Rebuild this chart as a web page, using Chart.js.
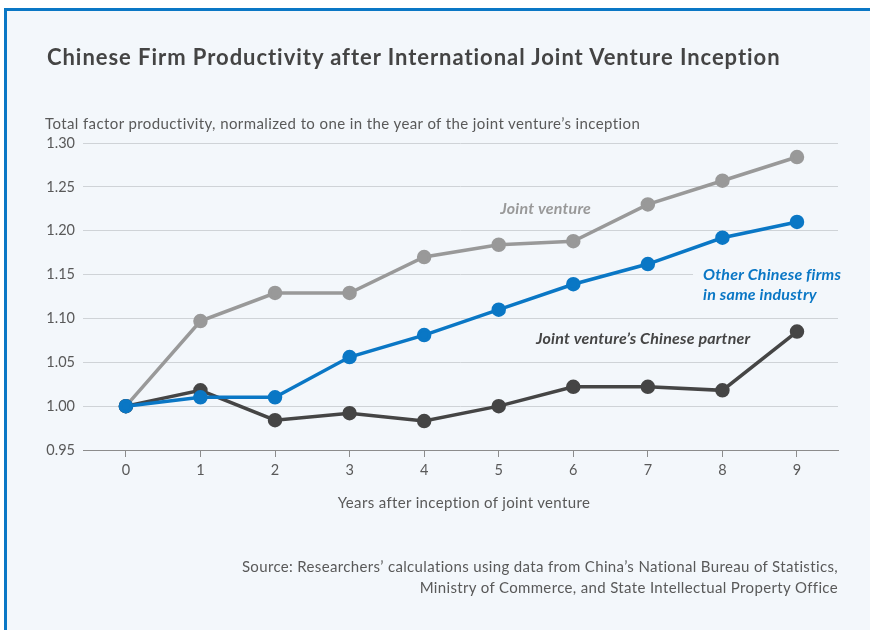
<!DOCTYPE html>
<html>
<head>
<meta charset="utf-8">
<script src="https://cdn.jsdelivr.net/npm/chart.js@4.4.1/dist/chart.umd.min.js"></script>
<style>
    html, body { margin: 0; padding: 0; background: #fff; }
    body { width: 870px; height: 630px; position: relative; overflow: hidden; font-family: Lato, "Open Sans", sans-serif; }
    #frame {
        position: absolute; left: 4px; top: 8px; width: 880px; height: 640px;
        background: #f3f7fb; border-top: 3px solid #0a77c5; border-left: 3px solid #0a77c5;
    }
    #chartwrap { position: absolute; left: 0; top: 0; width: 870px; height: 630px; }
    .txt { position: absolute; color: #595959; white-space: nowrap; }
    #title { left: 47px; top: 43px; font-size: 22px; font-weight: 700; color: #444; letter-spacing: 0.95px; }
    #ytitle { left: 45px; top: 114px; font-size: 15px; letter-spacing: 0.4px; }
    #xtitle { left: 0; width: 928px; top: 493px; text-align: center; font-size: 15px; letter-spacing: 0.35px; }
    #source { right: 32px; top: 556px; text-align: right; font-size: 15px; line-height: 21px; letter-spacing: 0.35px; }
</style>
</head>
<body>
<div id="frame"></div>
<div id="chartwrap"><canvas id="jvchart" width="870" height="630"></canvas></div>
<div class="txt" id="title">Chinese Firm Productivity after International Joint Venture Inception</div>
<div class="txt" id="ytitle">Total factor productivity, normalized to one in the year of the joint venture’s inception</div>
<div class="txt" id="xtitle">Years after inception of joint venture</div>
<div class="txt" id="source">Source: Researchers’ calculations using data from China’s National Bureau of Statistics,<br>Ministry of Commerce, and State Intellectual Property Office</div>
<script>
'use strict'

var years = [0, 1, 2, 3, 4, 5, 6, 7, 8, 9];
var jointVenture = [1.000, 1.097, 1.129, 1.129, 1.170, 1.184, 1.188, 1.230, 1.257, 1.284];
var otherFirms = [1.000, 1.010, 1.010, 1.056, 1.081, 1.110, 1.139, 1.162, 1.192, 1.210];
var chinesePartner = [1.000, 1.018, 0.984, 0.992, 0.983, 1.000, 1.022, 1.022, 1.018, 1.085];
var yTicks = [0.95, 1.00, 1.05, 1.10, 1.15, 1.20, 1.25, 1.30];

function pts(vals) {
    return years.map(function (y, i) { return { x: y, y: vals[i] }; });
}

/* series labels placed in data units */
var seriesLabels = [
    { lines: ['Joint venture'], x: 5.02, y: 1.225, color: '#999999' },
    { lines: ['Other Chinese firms', 'in same industry'], x: 7.74, y: 1.1495, color: '#0a77c5', box: true },
    { lines: ['Joint venture’s Chinese partner'], x: 5.50, y: 1.0766, color: '#454545' }
];

var labelPlugin = {
    id: 'seriesLabels',
    afterDatasetsDraw: function (chart) {
        var ctx = chart.ctx;
        var xs = chart.scales.x, ys = chart.scales.y;
        ctx.save();
        ctx.font = 'italic 700 16px Lato, "Open Sans", sans-serif';
        ctx.letterSpacing = '0.2px';
        ctx.textBaseline = 'middle';
        ctx.textAlign = 'left';
        seriesLabels.forEach(function (l) {
            var px = xs.getPixelForValue(l.x);
            var py = ys.getPixelForValue(l.y);
            if (l.box) {
                var w = 0;
                l.lines.forEach(function (s) { w = Math.max(w, ctx.measureText(s).width); });
                ctx.fillStyle = '#f3f7fb';
                ctx.fillRect(px - 10, py - 10, w + 20, 20 * l.lines.length);
            }
            ctx.fillStyle = l.color;
            l.lines.forEach(function (s, i) {
                ctx.fillText(s, px, py + i * 20);
            });
        });
        ctx.restore();
    }
};

var ctx = document.getElementById('jvchart').getContext('2d');
var jvchart = new Chart(ctx, {
    type: 'line',
    data: {
        datasets: [{
            label: 'Other Chinese firms in same industry',
            data: pts(otherFirms),
            borderColor: '#0a77c5',
            backgroundColor: '#0a77c5',
            pointBackgroundColor: '#0a77c5',
            borderWidth: 3.5,
            pointRadius: 5.5,
            tension: 0
        }, {
            label: 'Joint venture’s Chinese partner',
            data: pts(chinesePartner),
            borderColor: '#454545',
            backgroundColor: '#454545',
            pointBackgroundColor: '#454545',
            borderWidth: 3.5,
            pointRadius: 5.5,
            tension: 0
        }, {
            label: 'Joint venture',
            data: pts(jointVenture),
            borderColor: '#999999',
            backgroundColor: '#999999',
            pointBackgroundColor: '#999999',
            borderWidth: 3.5,
            pointRadius: 5.5,
            tension: 0
        }]
    },
    options: {
        responsive: false,
        animation: false,
        layout: {
            padding: { left: 0, right: 32, top: 143, bottom: 140 }
        },
        plugins: {
            legend: { display: false },
            tooltip: { enabled: false }
        },
        scales: {
            x: {
                type: 'linear',
                min: -0.575,
                max: 9.55,
                afterFit: function (scale) { scale.height = 40; },
                afterBuildTicks: function (scale) {
                    scale.ticks = years.map(function (v) { return { value: v }; });
                },
                grid: {
                    drawOnChartArea: false,
                    drawTicks: true,
                    tickLength: 7,
                    color: '#8c8c8c'
                },
                border: { display: true, color: '#8c8c8c', width: 1 },
                ticks: {
                    color: '#595959',
                    padding: 5,
                    font: { family: 'Lato, "Open Sans", sans-serif', size: 14.5 }
                }
            },
            y: {
                min: 0.95,
                max: 1.30,
                afterFit: function (scale) { scale.width = 83; },
                afterBuildTicks: function (scale) {
                    scale.ticks = yTicks.map(function (v) { return { value: v }; });
                },
                grid: {
                    color: '#cfd3d7',
                    drawTicks: false
                },
                border: { display: false },
                ticks: {
                    color: '#595959',
                    padding: 8,
                    font: { family: 'Lato, "Open Sans", sans-serif', size: 14.5 },
                    callback: function (v) { return v.toFixed(2); }
                }
            }
        }
    },
    plugins: [labelPlugin]
});
</script>
</body>
</html>
